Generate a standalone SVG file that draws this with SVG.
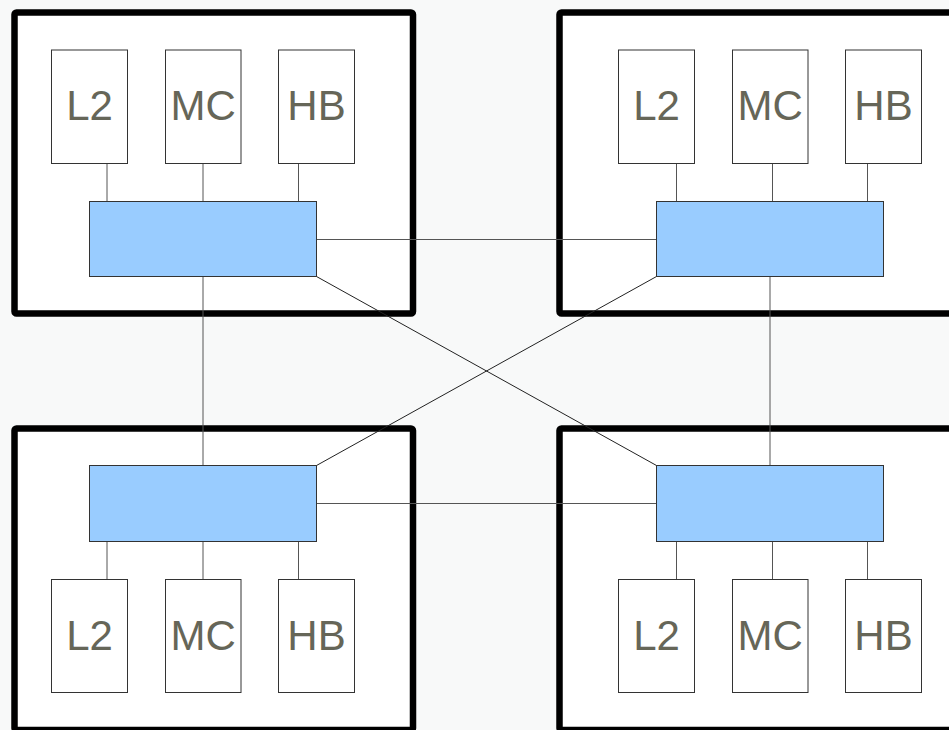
<svg xmlns="http://www.w3.org/2000/svg" width="949" height="730" viewBox="0 0 949 730">
<style>
.bg{fill:#f8f9f9}
.outer{fill:#fff;stroke:#000;stroke-width:6.5}
.unit{fill:#fff;stroke:#333;stroke-width:1}
.bus{fill:#99ccff;stroke:#333;stroke-width:1}
.lbl{font-family:"Liberation Sans",Arial,sans-serif;font-size:42px;fill:#666658;text-anchor:middle}
.c{stroke:#555;stroke-width:1;fill:none}
.d{stroke:#222;stroke-width:1;fill:none}
</style>
<rect class="bg" x="0" y="0" width="949" height="730"/>
<g id="cluster-tl"><rect class="outer" x="14.5" y="12.5" width="398.5" height="301" rx="2"/></g>
<g id="cluster-tr"><rect class="outer" x="559.5" y="12.5" width="420" height="301" rx="2"/></g>
<g id="cluster-bl"><rect class="outer" x="14.5" y="428.5" width="398.5" height="301.5" rx="2"/></g>
<g id="cluster-br"><rect class="outer" x="559.5" y="428.5" width="420" height="301.5" rx="2"/></g>
<g id="connectors">
<line class="c" x1="107" y1="163.5" x2="107" y2="201.5"/>
<line class="c" x1="203" y1="163.5" x2="203" y2="201.5"/>
<line class="c" x1="298.5" y1="163.5" x2="298.5" y2="201.5"/>
<line class="c" x1="676.5" y1="163.5" x2="676.5" y2="201.5"/>
<line class="c" x1="772.5" y1="163.5" x2="772.5" y2="201.5"/>
<line class="c" x1="867.5" y1="163.5" x2="867.5" y2="201.5"/>
<line class="c" x1="107" y1="541.5" x2="107" y2="579.5"/>
<line class="c" x1="203" y1="541.5" x2="203" y2="579.5"/>
<line class="c" x1="298.5" y1="541.5" x2="298.5" y2="579.5"/>
<line class="c" x1="676.5" y1="541.5" x2="676.5" y2="579.5"/>
<line class="c" x1="772.5" y1="541.5" x2="772.5" y2="579.5"/>
<line class="c" x1="867.5" y1="541.5" x2="867.5" y2="579.5"/>
<line class="c" x1="316.5" y1="239.5" x2="656.5" y2="239.5"/>
<line class="c" x1="316.5" y1="503.5" x2="656.5" y2="503.5"/>
<line class="c" x1="203" y1="276.5" x2="203" y2="465.5"/>
<line class="c" x1="770" y1="276.5" x2="770" y2="465.5"/>
<line class="d" x1="316.5" y1="276.5" x2="656.5" y2="465.5"/>
<line class="d" x1="656.5" y1="276.5" x2="316.5" y2="465.5"/>
</g>
<g id="bus-tl"><rect class="bus" x="89.5" y="201.5" width="227" height="75"/></g>
<g id="bus-tr"><rect class="bus" x="656.5" y="201.5" width="227" height="75"/></g>
<g id="bus-bl"><rect class="bus" x="89.5" y="465.5" width="227" height="76"/></g>
<g id="bus-br"><rect class="bus" x="656.5" y="465.5" width="227" height="76"/></g>
<g id="tl-l2"><rect class="unit" x="51.5" y="50" width="76" height="113.5"/><text class="lbl" x="89.5" y="120">L2</text></g>
<g id="tl-mc"><rect class="unit" x="165.5" y="50" width="75.5" height="113.5"/><text class="lbl" x="203.2" y="120">MC</text></g>
<g id="tl-hb"><rect class="unit" x="278.5" y="50" width="76" height="113.5"/><text class="lbl" x="316.5" y="120">HB</text></g>
<g id="tr-l2"><rect class="unit" x="618.5" y="50" width="76" height="113.5"/><text class="lbl" x="656.5" y="120">L2</text></g>
<g id="tr-mc"><rect class="unit" x="732.5" y="50" width="75.5" height="113.5"/><text class="lbl" x="770.2" y="120">MC</text></g>
<g id="tr-hb"><rect class="unit" x="845.5" y="50" width="76" height="113.5"/><text class="lbl" x="883.5" y="120">HB</text></g>
<g id="bl-l2"><rect class="unit" x="51.5" y="579.5" width="76" height="113"/><text class="lbl" x="89.5" y="649.5">L2</text></g>
<g id="bl-mc"><rect class="unit" x="165.5" y="579.5" width="75.5" height="113"/><text class="lbl" x="203.2" y="649.5">MC</text></g>
<g id="bl-hb"><rect class="unit" x="278.5" y="579.5" width="76" height="113"/><text class="lbl" x="316.5" y="649.5">HB</text></g>
<g id="br-l2"><rect class="unit" x="618.5" y="579.5" width="76" height="113"/><text class="lbl" x="656.5" y="649.5">L2</text></g>
<g id="br-mc"><rect class="unit" x="732.5" y="579.5" width="75.5" height="113"/><text class="lbl" x="770.2" y="649.5">MC</text></g>
<g id="br-hb"><rect class="unit" x="845.5" y="579.5" width="76" height="113"/><text class="lbl" x="883.5" y="649.5">HB</text></g>
</svg>
